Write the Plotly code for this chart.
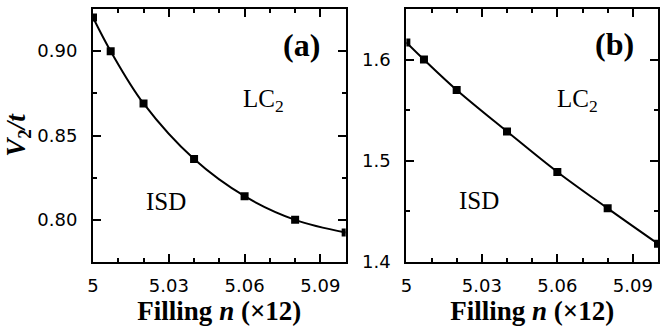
import plotly.graph_objects as go

# Data
filling = [5.0, 5.007, 5.02, 5.04, 5.06, 5.08, 5.1]
v2_a = [0.920, 0.900, 0.869, 0.836, 0.814, 0.800, 0.7925]
v2_b = [1.617, 1.600, 1.570, 1.529, 1.489, 1.453, 1.418]
xtick_vals = [5.0, 5.03, 5.06, 5.09]
xtick_text = ["5", "5.03", "5.06", "5.09"]
ytick_a = [0.80, 0.85, 0.90]
ytick_a_text = ["0.80", "0.85", "0.90"]
ytick_b = [1.4, 1.5, 1.6]
ytick_b_text = ["1.4", "1.5", "1.6"]

serif = "Times New Roman, Liberation Serif, serif"
sans = "DejaVu Sans, Arial, sans-serif"

fig = go.Figure()
for vals, xa, ya in [(v2_a, "x", "y"), (v2_b, "x2", "y2")]:
    fig.add_trace(go.Scatter(
        x=filling, y=vals, xaxis=xa, yaxis=ya, mode="lines+markers",
        line=dict(color="black", width=2, shape="spline", smoothing=1),
        marker=dict(symbol="square", size=8, color="black"),
        showlegend=False,
    ))

common_x = dict(
    range=[5.0, 5.1], tickmode="array", tickvals=xtick_vals, ticktext=xtick_text,
    ticks="inside", ticklen=8, tickwidth=1.5, tickcolor="black",
    minor=dict(dtick=0.01, tick0=5.0, ticks="inside", ticklen=4, tickwidth=1.5, tickcolor="black"),
    showline=True, linecolor="black", linewidth=2, mirror="allticks",
    showgrid=False, zeroline=False,
    tickfont=dict(family=sans, size=18, color="black"),
    title=dict(text="<b>Filling <i>n</i> (×12)</b>", font=dict(family=serif, size=27, color="black"), standoff=8),
    ticklabelstandoff=6,
)
common_y = dict(
    ticks="inside", ticklen=8, tickwidth=1.5, tickcolor="black",
    showline=True, linecolor="black", linewidth=2, mirror="allticks",
    showgrid=False, zeroline=False,
    tickfont=dict(family=sans, size=18, color="black"),
    ticklabelstandoff=10,
)

fig.update_layout(
    width=661, height=326,
    margin=dict(l=93, r=1, t=9, b=64),
    paper_bgcolor="white", plot_bgcolor="white",
    xaxis=dict(domain=[0, 0.4472], anchor="y", **common_x),
    xaxis2=dict(domain=[0.5546, 1.0], anchor="y2", **common_x),
    yaxis=dict(domain=[0, 1], anchor="x", range=[0.775, 0.925],
               tickmode="array", tickvals=ytick_a, ticktext=ytick_a_text,
               minor=dict(dtick=0.025, tick0=0.775, ticks="inside", ticklen=4, tickwidth=1.5, tickcolor="black"),
               title=dict(text="<b><i>V</i><sub>2</sub><i>/t</i></b>", font=dict(family=serif, size=27, color="black"), standoff=4),
               **common_y),
    yaxis2=dict(domain=[0, 1], anchor="x2", range=[1.4, 1.65],
                tickmode="array", tickvals=ytick_b, ticktext=ytick_b_text,
                minor=dict(dtick=0.05, tick0=1.4, ticks="inside", ticklen=4, tickwidth=1.5, tickcolor="black"),
                **common_y),
)

ann_font_big = dict(family=serif, size=32, color="black")
ann_font = dict(family=serif, size=25, color="black")
annots = [
    ("x", "y", 5.0824, 0.9036, "<b>(a)</b>", ann_font_big),
    ("x", "y", 5.0675, 0.871, "LC<sub>2</sub>", ann_font),
    ("x", "y", 5.029, 0.8107, "ISD", ann_font),
    ("x2", "y2", 5.0826, 1.615, "<b>(b)</b>", ann_font_big),
    ("x2", "y2", 5.068, 1.5597, "LC<sub>2</sub>", ann_font),
    ("x2", "y2", 5.029, 1.461, "ISD", ann_font),
]
for xr, yr, x, y, t, f in annots:
    fig.add_annotation(xref=xr, yref=yr, x=x, y=y, text=t, showarrow=False, font=f)

fig.write_html("out.html")
